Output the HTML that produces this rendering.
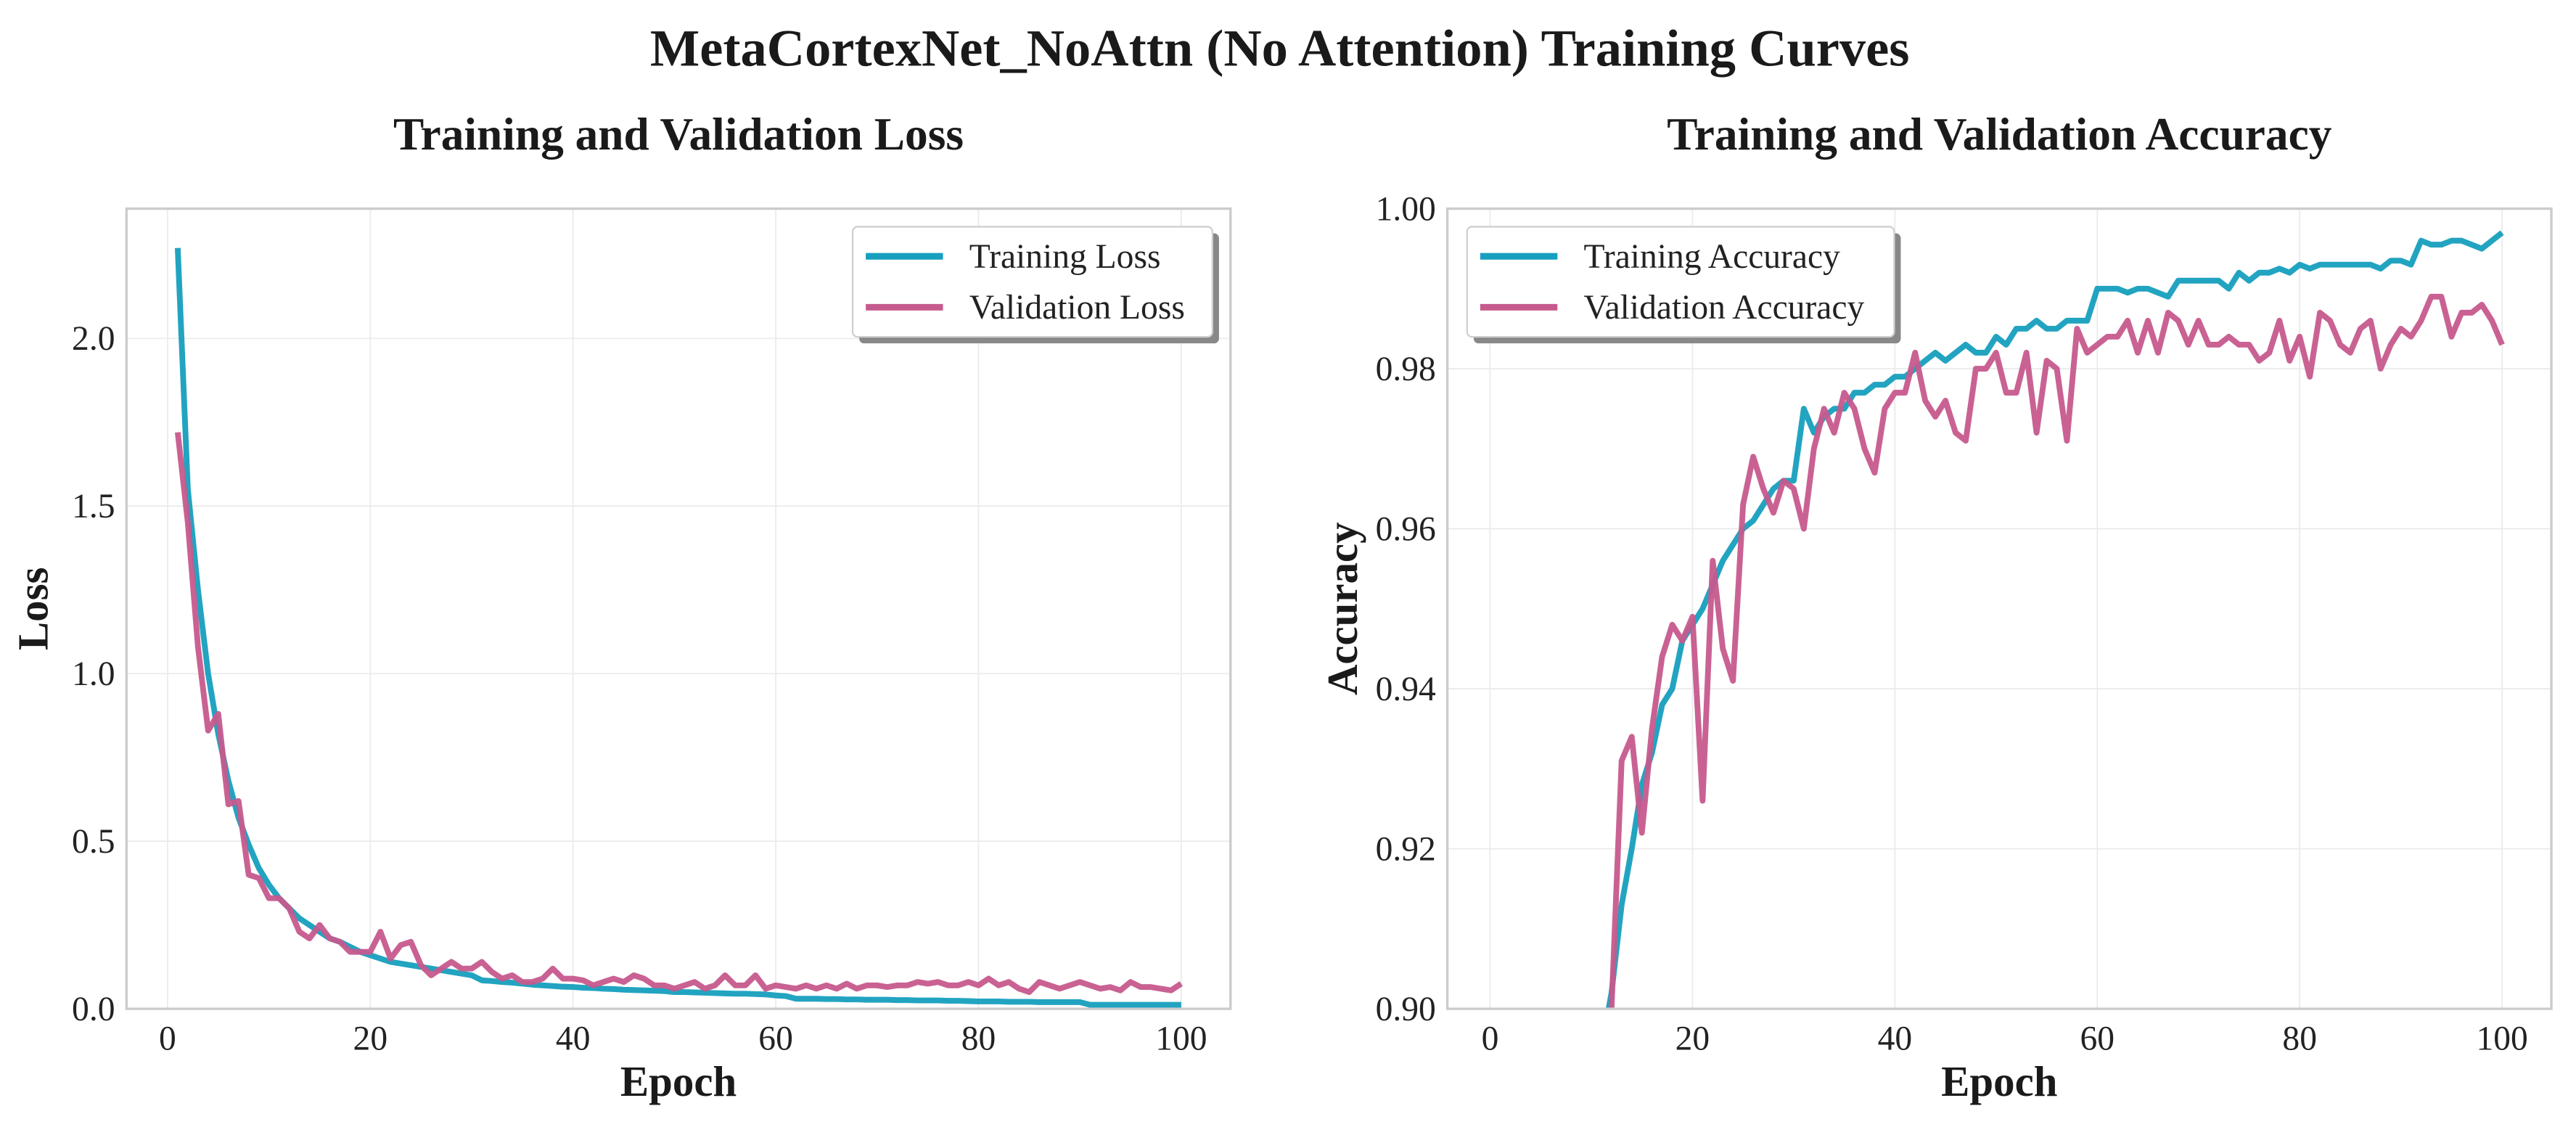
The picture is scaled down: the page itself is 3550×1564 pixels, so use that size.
<!DOCTYPE html>
<html><head><meta charset="utf-8"><style>
html,body{margin:0;padding:0;background:#fff;width:3550px;height:1564px;overflow:hidden}
svg{display:block;font-family:"Liberation Serif",serif}
</style></head><body>
<svg id="c" width="3550" height="1564" viewBox="0 0 1568 690.8">
<text x="779" y="40" text-anchor="middle" font-size="32" font-weight="bold" fill="#1a1a1a">MetaCortexNet_NoAttn (No Attention) Training Curves</text>
<text x="413" y="91" text-anchor="middle" font-size="28" font-weight="bold" fill="#1a1a1a">Training and Validation Loss</text>
<text x="1217" y="91" text-anchor="middle" font-size="28" font-weight="bold" fill="#1a1a1a">Training and Validation Accuracy</text>
<g id="g1"></g>
<g id="g2"></g>
</svg>
<script>
const epochs=[];for(let i=1;i<=100;i++)epochs.push(i);
const trainLoss=[2.27,1.55,1.25,1.0,0.82,0.68,0.57,0.49,0.42,0.37,0.33,0.30,0.27,0.25,0.23,0.21,0.20,0.185,0.17,0.16,0.15,0.14,0.135,0.13,0.125,0.12,0.115,0.11,0.105,0.10,0.085,0.083,0.08,0.078,0.075,0.072,0.07,0.068,0.066,0.065,0.063,0.062,0.06,0.059,0.057,0.056,0.055,0.054,0.053,0.05,0.05,0.049,0.048,0.047,0.046,0.045,0.045,0.044,0.043,0.04,0.038,0.03,0.03,0.03,0.029,0.029,0.028,0.028,0.027,0.027,0.027,0.026,0.026,0.025,0.025,0.025,0.024,0.024,0.023,0.022,0.022,0.022,0.021,0.021,0.021,0.02,0.02,0.02,0.02,0.02,0.012,0.012,0.012,0.012,0.012,0.012,0.012,0.012,0.012,0.012];
const valLoss=[1.72,1.45,1.08,0.83,0.88,0.61,0.62,0.40,0.39,0.33,0.33,0.30,0.23,0.21,0.25,0.21,0.20,0.17,0.17,0.17,0.23,0.15,0.19,0.20,0.13,0.10,0.12,0.14,0.12,0.12,0.14,0.11,0.09,0.10,0.08,0.08,0.09,0.12,0.09,0.09,0.085,0.07,0.08,0.09,0.08,0.10,0.09,0.07,0.07,0.06,0.07,0.08,0.06,0.07,0.10,0.07,0.07,0.10,0.06,0.07,0.065,0.06,0.07,0.06,0.07,0.06,0.075,0.06,0.07,0.07,0.065,0.07,0.07,0.08,0.075,0.08,0.07,0.07,0.08,0.07,0.09,0.07,0.08,0.06,0.05,0.08,0.07,0.06,0.07,0.08,0.07,0.06,0.065,0.055,0.08,0.065,0.065,0.06,0.055,0.075];
const trainAcc=[0.72,0.78,0.81,0.83,0.85,0.86,0.87,0.88,0.885,0.89,0.895,0.902,0.913,0.92,0.928,0.932,0.938,0.940,0.946,0.948,0.950,0.953,0.956,0.958,0.960,0.961,0.963,0.965,0.966,0.966,0.975,0.972,0.974,0.975,0.975,0.977,0.977,0.978,0.978,0.979,0.979,0.980,0.981,0.982,0.981,0.982,0.983,0.982,0.982,0.984,0.983,0.985,0.985,0.986,0.985,0.985,0.986,0.986,0.986,0.990,0.990,0.990,0.9895,0.990,0.990,0.9895,0.989,0.991,0.991,0.991,0.991,0.991,0.990,0.992,0.991,0.992,0.992,0.9925,0.992,0.993,0.9925,0.993,0.993,0.993,0.993,0.993,0.993,0.9925,0.9935,0.9935,0.993,0.996,0.9955,0.9955,0.996,0.996,0.9955,0.995,0.996,0.997];
const valAcc=[0.70,0.76,0.80,0.82,0.84,0.85,0.86,0.87,0.88,0.885,0.89,0.90,0.931,0.934,0.922,0.935,0.944,0.948,0.946,0.949,0.926,0.956,0.945,0.941,0.963,0.969,0.965,0.962,0.966,0.965,0.960,0.970,0.975,0.972,0.977,0.975,0.970,0.967,0.975,0.977,0.977,0.982,0.976,0.974,0.976,0.972,0.971,0.980,0.980,0.982,0.977,0.977,0.982,0.972,0.981,0.980,0.971,0.985,0.982,0.983,0.984,0.984,0.986,0.982,0.986,0.982,0.987,0.986,0.983,0.986,0.983,0.983,0.984,0.983,0.983,0.981,0.982,0.986,0.981,0.984,0.979,0.987,0.986,0.983,0.982,0.985,0.986,0.980,0.983,0.985,0.984,0.986,0.989,0.989,0.984,0.987,0.987,0.988,0.986,0.983];
const xTicks=[0,20,40,60,80,100];
const lossTicks=[0.0,0.5,1.0,1.5,2.0];
const accTicks=[0.90,0.92,0.94,0.96,0.98,1.00];
const NS='http://www.w3.org/2000/svg';
function mk(tag,attrs,parent){const e=document.createElementNS(NS,tag);for(const k in attrs)e.setAttribute(k,attrs[k]);parent.appendChild(e);return e;}
const TEAL='#169fbe',PINK='#c65a8d';
function panel(g,id,fx0,fx1,x0px,x100px,ymin,ymax,y0px,y1px,ticks,fmt,series,names,ylabel,ylx,legX,legW){
  const top=127,bot=614;
  const sx=v=>x0px+(x100px-x0px)*v/100;
  const sy=v=>y0px+(y1px-y0px)*(v-ymin)/(ymax-ymin);
  mk('clipPath',{id:id},g);mk('rect',{x:fx0,y:top,width:fx1-fx0,height:bot-top},g.lastChild);
  xTicks.forEach(t=>{const l=mk('line',{x1:sx(t),x2:sx(t),y1:top,y2:bot,stroke:'#ebebeb','stroke-width':0.8},g);
    
    const tx=mk('text',{x:sx(t),y:639,'text-anchor':'middle','font-size':21,fill:'#222'},g);tx.textContent=t;
    });
  ticks.forEach(t=>{const l=mk('line',{x1:fx0,x2:fx1,y1:sy(t),y2:sy(t),stroke:'#ebebeb','stroke-width':0.8},g);
    
    const tx=mk('text',{x:fx0-7,y:sy(t)+7,'text-anchor':'end','font-size':21,fill:'#222'},g);tx.textContent=fmt(t);
    });
  const cg=mk('g',{'clip-path':'url(#'+id+')'},g);
  series.forEach((s,i)=>{const d=s.map((v,j)=>(j?'L':'M')+sx(epochs[j]).toFixed(2)+','+sy(v).toFixed(2)).join('');
    const p=mk('path',{d:d,fill:'none',stroke:i?PINK:TEAL,'stroke-width':3.5,'stroke-linejoin':'round','stroke-opacity':0.95},cg);
    });
  const fr=mk('rect',{x:fx0,y:top,width:fx1-fx0,height:bot-top,fill:'none',stroke:'#cccccc','stroke-width':1.5},g);
  
  const xl=mk('text',{x:(fx0+fx1)/2,y:667,'text-anchor':'middle','font-size':26,'font-weight':'bold',fill:'#1a1a1a'},g);xl.textContent='Epoch';
  
  const yl=mk('text',{x:0,y:0,transform:'translate('+ylx+','+((top+bot)/2)+') rotate(-90)','text-anchor':'middle','font-size':26,'font-weight':'bold',fill:'#1a1a1a'},g);yl.textContent=ylabel;
  
  const lg=mk('g',{},g);
  mk('rect',{x:legX+4,y:142,width:legW,height:67,rx:3,fill:'#888'},lg);
  mk('rect',{x:legX,y:138,width:legW,height:67,rx:3,fill:'#fff',stroke:'#cfcfcf','stroke-width':1},lg);
  names.forEach((n,i)=>{const y=156+i*31;
    mk('line',{x1:legX+8,x2:legX+55,y1:y,y2:y,stroke:i?PINK:TEAL,'stroke-width':4},lg);
    const t=mk('text',{x:legX+71,y:y+7,'font-size':21,fill:'#222'},lg);t.textContent=n;
    });
}
panel(document.getElementById('g1'),'cp1',77,749,102,719,0,2,614,206,lossTicks,t=>t.toFixed(1),[trainLoss,valLoss],['Training Loss','Validation Loss'],'Loss',29,519,219);
panel(document.getElementById('g2'),'cp2',881,1553,907,1523,0.9,1.0,614,127,accTicks,t=>t.toFixed(2),[trainAcc,valAcc],['Training Accuracy','Validation Accuracy'],'Accuracy',826,893,260);
</script>
</body></html>
